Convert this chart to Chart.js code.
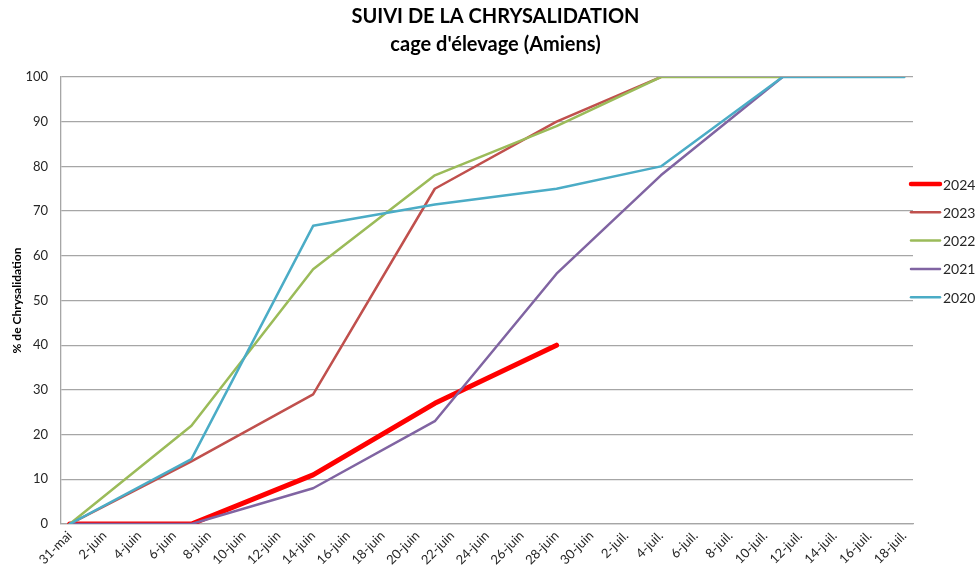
<!DOCTYPE html>
<html>
<head>
<meta charset="utf-8">
<script src="https://cdn.jsdelivr.net/npm/chart.js@4/dist/chart.umd.min.js"></script>
<style>
  html, body { margin: 0; padding: 0; background: #fff; }
  #wrap { width: 977px; height: 573px; }
</style>
</head>
<body>
<div id="wrap"><canvas id="c" width="977" height="573"></canvas></div>
<script>
// All daily categories (31-mai .. 18-juil.)
const categories = [
  '31-mai',
  '1-juin','2-juin','3-juin','4-juin','5-juin','6-juin','7-juin','8-juin','9-juin','10-juin',
  '11-juin','12-juin','13-juin','14-juin','15-juin','16-juin','17-juin','18-juin','19-juin','20-juin',
  '21-juin','22-juin','23-juin','24-juin','25-juin','26-juin','27-juin','28-juin','29-juin','30-juin',
  '1-juil.','2-juil.','3-juil.','4-juil.','5-juil.','6-juil.','7-juil.','8-juil.','9-juil.','10-juil.',
  '11-juil.','12-juil.','13-juil.','14-juil.','15-juil.','16-juil.','17-juil.','18-juil.'
];
// Observation dates
const obsDates = ['31-mai','7-juin','14-juin','21-juin','28-juin','4-juil.','11-juil.','18-juil.'];
// Series values (% chrysalidation) at obsDates, null = no observation
const s2024 = [0, 0, 11, 27, 40, null, null, null];
const s2023 = [0, 14, 29, 75, 90, 100, null, null];
const s2022 = [0, 22, 57, 78, 89, 100, 100, null];
const s2021 = [0, 0, 8, 23, 56, 78, 100, null];
const s2020 = [0, 14.5, 66.7, 71.5, 75, 80, 100, 100];
const seriesNames = ['2024', '2023', '2022', '2021', '2020'];
const yTicks = [0, 10, 20, 30, 40, 50, 60, 70, 80, 90, 100];

function pts(vals) {
  const out = [];
  vals.forEach((v, i) => { if (v !== null) out.push({ x: obsDates[i], y: v }); });
  return out;
}

const FONT = 'Lato, "Open Sans", sans-serif';
const GRID = '#a6a6a6';

const styles = [
  { color: '#FF0000', width: 5 },
  { color: '#C0504D', width: 2.5 },
  { color: '#9BBB59', width: 2.5 },
  { color: '#8064A2', width: 2.5 },
  { color: '#4BACC6', width: 2.5 }
];
const allSeries = [s2024, s2023, s2022, s2021, s2020];

const datasets = allSeries.map((s, i) => ({
  label: seriesNames[i],
  data: pts(s),
  borderColor: styles[i].color,
  backgroundColor: styles[i].color,
  borderWidth: styles[i].width,
  pointRadius: 0,
  pointHoverRadius: 0,
  tension: 0,
  fill: false,
  order: allSeries.length - i,
  borderCapStyle: 'round',
  borderJoinStyle: 'round'
}));

const sideLegend = {
  id: 'sideLegend',
  afterDraw(chart) {
    const ctx = chart.ctx;
    const area = chart.chartArea;
    const x0 = area.right - 2;
    const lineLen = 29;
    const step = 28.3;
    const y0 = 184;
    ctx.save();
    ctx.font = '14px ' + FONT;
    ctx.textBaseline = 'middle';
    ctx.textAlign = 'left';
    chart.data.datasets.forEach((ds, i) => {
      const y = y0 + i * step;
      ctx.beginPath();
      ctx.strokeStyle = ds.borderColor;
      ctx.lineWidth = i === 0 ? 4.5 : 2.5;
      ctx.lineCap = 'round';
      ctx.moveTo(x0, y);
      ctx.lineTo(x0 + lineLen, y);
      ctx.stroke();
      ctx.fillStyle = '#262626';
      ctx.fillText(ds.label, x0 + lineLen + 3, y + 1);
    });
    ctx.restore();
  }
};

new Chart(document.getElementById('c'), {
  type: 'line',
  data: { labels: categories, datasets },
  options: {
    responsive: false,
    animation: false,
    events: [],
    layout: { padding: { left: 14, right: 0, top: 0, bottom: 0 } },
    plugins: {
      legend: { display: false },
      tooltip: { enabled: false },
      title: {
        display: true,
        text: ['SUIVI DE LA CHRYSALIDATION', "cage d'élevage (Amiens)"],
        color: '#000',
        font: { family: FONT, size: 20, weight: 'bold', lineHeight: 1.4 },
        padding: { top: 3, bottom: 18 }
      }
    },
    scales: {
      x: {
        type: 'category',
        offset: true,
        grid: { display: false, drawTicks: false },
        border: { display: true, color: GRID, width: 1.3 },
        ticks: {
          autoSkip: false,
          maxRotation: 45,
          minRotation: 45,
          padding: 4,
          color: '#262626',
          font: { family: FONT, size: 13 },
          callback: function (v, i) { return i % 2 === 0 ? categories[i] : ''; }
        },
        afterFit(s) { s.height = 49; }
      },
      y: {
        min: 0,
        max: 100,
        afterBuildTicks(s) { s.ticks = yTicks.map(v => ({ value: v })); },
        grid: { color: GRID, lineWidth: 1.3, drawTicks: false },
        border: { display: true, color: GRID, width: 1.3 },
        ticks: {
          padding: 13,
          color: '#262626',
          font: { family: FONT, size: 13 }
        },
        title: {
          display: true,
          text: '% de Chrysalidation',
          color: '#000',
          font: { family: FONT, size: 12, weight: 'bold', lineHeight: 1 },
          padding: { top: -3, bottom: 0 }
        },
        afterFit(s) { s.width = 47; }
      },
      yR: {
        position: 'right',
        display: true,
        min: 0,
        max: 100,
        grid: { display: false, drawTicks: false },
        border: { display: false },
        ticks: { display: false },
        afterFit(s) { s.width = 64; }
      }
    }
  },
  plugins: [sideLegend]
});
</script>
</body>
</html>
